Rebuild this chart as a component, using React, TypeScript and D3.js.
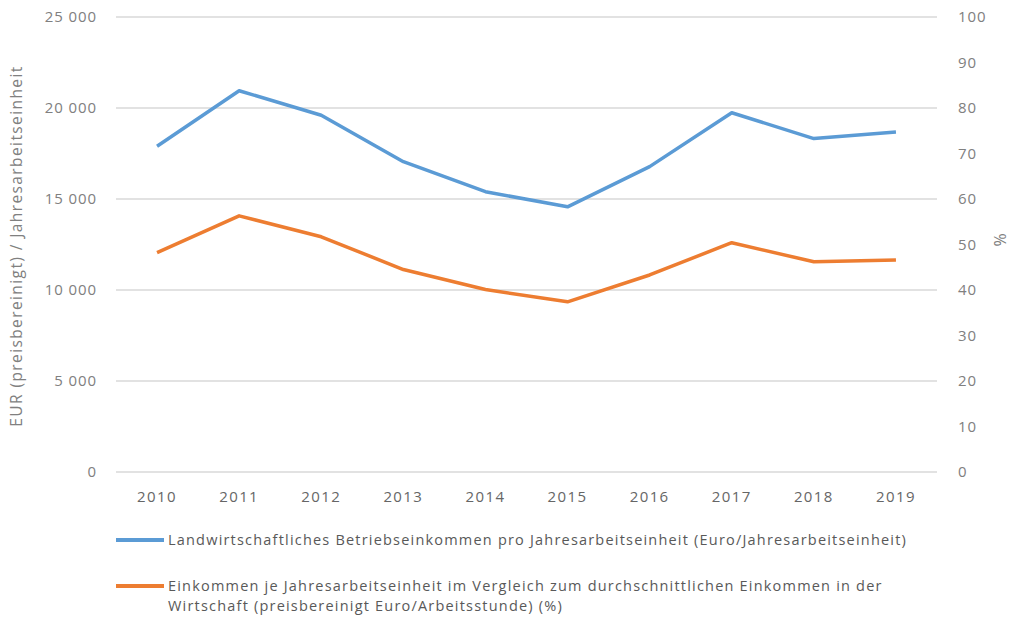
import React, { useRef, useEffect } from 'react';
import * as d3 from 'd3';

// Data
const years = ['2010', '2011', '2012', '2013', '2014', '2015', '2016', '2017', '2018', '2019'];
const einkommenEur = [17900, 20950, 19600, 17050, 15400, 14570, 16780, 19740, 18320, 18680];
const vergleichPct = [48.2, 56.3, 51.7, 44.5, 40.1, 37.4, 43.3, 50.4, 46.2, 46.6];
const leftTicks = [0, 5000, 10000, 15000, 20000, 25000];
const rightTicks = [0, 10, 20, 30, 40, 50, 60, 70, 80, 90, 100];
const legendLabels = [
  ['Landwirtschaftliches Betriebseinkommen pro Jahresarbeitseinheit (Euro/Jahresarbeitseinheit)'],
  ['Einkommen je Jahresarbeitseinheit im Vergleich zum durchschnittlichen Einkommen in der',
    'Wirtschaft (preisbereinigt Euro/Arbeitsstunde) (%)'],
];
const colors = ['#5b9bd5', '#ed7d31'];

const App = () => {
  const ref = useRef<SVGSVGElement>(null);

  useEffect(() => {
    const width = 1021;
    const height = 620;
    const margin = { top: 17, left: 116, right: 84, bottom: 148 };
    const innerW = width - margin.left - margin.right;
    const innerH = height - margin.top - margin.bottom;

    const svg = d3.select(ref.current);
    svg.selectAll('*').remove();
    const g = svg.append('g').attr('transform', `translate(${margin.left},${margin.top})`);

    const x = d3.scaleBand().domain(years).range([0, innerW]);
    const yL = d3.scaleLinear().domain([0, 25000]).range([innerH, 0]);
    const yR = d3.scaleLinear().domain([0, 100]).range([innerH, 0]);
    const fmt = (v: number) => d3.format(',')(v).replace(',', ' ');
    const font = '"Open Sans", sans-serif';

    // gridlines
    g.selectAll('.grid')
      .data(leftTicks)
      .enter().append('line')
      .attr('x1', 0).attr('x2', innerW)
      .attr('y1', d => yL(d)).attr('y2', d => yL(d))
      .attr('stroke', '#d9d9d9').attr('stroke-width', 1.5);

    // left axis labels
    g.selectAll('.yl')
      .data(leftTicks)
      .enter().append('text')
      .attr('x', -19).attr('y', d => yL(d)).attr('dy', '0.35em')
      .attr('text-anchor', 'end')
      .attr('font-family', font).attr('font-size', 15).attr('letter-spacing', 0.9)
      .attr('fill', '#808080')
      .text(d => fmt(d));

    // right axis labels
    g.selectAll('.yr')
      .data(rightTicks)
      .enter().append('text')
      .attr('x', innerW + 21).attr('y', d => yR(d)).attr('dy', '0.35em')
      .attr('font-family', font).attr('font-size', 15).attr('letter-spacing', 0.9)
      .attr('fill', '#808080')
      .text(d => d);

    // x labels
    g.selectAll('.xl')
      .data(years)
      .enter().append('text')
      .attr('x', d => x(d)! + x.bandwidth() / 2).attr('y', innerH + 30)
      .attr('text-anchor', 'middle')
      .attr('font-family', font).attr('font-size', 15).attr('letter-spacing', 1.4)
      .attr('fill', '#666')
      .text(d => d);

    // axis titles
    svg.append('text')
      .attr('transform', `translate(22,246) rotate(-90)`)
      .attr('text-anchor', 'middle')
      .attr('font-family', font).attr('font-size', 15.5).attr('letter-spacing', 1.4)
      .attr('fill', '#808080')
      .text('EUR (preisbereinigt) / Jahresarbeitseinheit');
    svg.append('text')
      .attr('transform', `translate(1006,240) rotate(-90)`)
      .attr('text-anchor', 'middle')
      .attr('font-family', font).attr('font-size', 16)
      .attr('fill', '#808080')
      .text('%');

    // lines
    const cx = (i: number) => x(years[i])! + x.bandwidth() / 2;
    const lineL = d3.line<number>().x((_, i) => cx(i)).y(d => yL(d));
    const lineR = d3.line<number>().x((_, i) => cx(i)).y(d => yR(d));
    g.append('path').datum(einkommenEur)
      .attr('d', lineL).attr('fill', 'none')
      .attr('stroke', colors[0]).attr('stroke-width', 3.5).attr('stroke-linejoin', 'round');
    g.append('path').datum(vergleichPct)
      .attr('d', lineR).attr('fill', 'none')
      .attr('stroke', colors[1]).attr('stroke-width', 3.5).attr('stroke-linejoin', 'round');

    // legend
    const legendY = [540, 586];
    legendLabels.forEach((lines, i) => {
      const lg = svg.append('g').attr('transform', `translate(116,${legendY[i]})`);
      lg.append('line').attr('x1', 0).attr('x2', 48).attr('y1', 0).attr('y2', 0)
        .attr('stroke', colors[i]).attr('stroke-width', 4);
      lines.forEach((t, j) => {
        lg.append('text')
          .attr('x', 52).attr('y', j * 20).attr('dy', '0.35em')
          .attr('font-family', font).attr('font-size', 14.5).attr('letter-spacing', 1.2)
          .attr('fill', '#595959')
          .text(t);
      });
    });
  }, []);

  return <svg ref={ref} width={1021} height={620} style={{ position: 'absolute', left: 0, top: 0 }}></svg>;
};

export default App;
